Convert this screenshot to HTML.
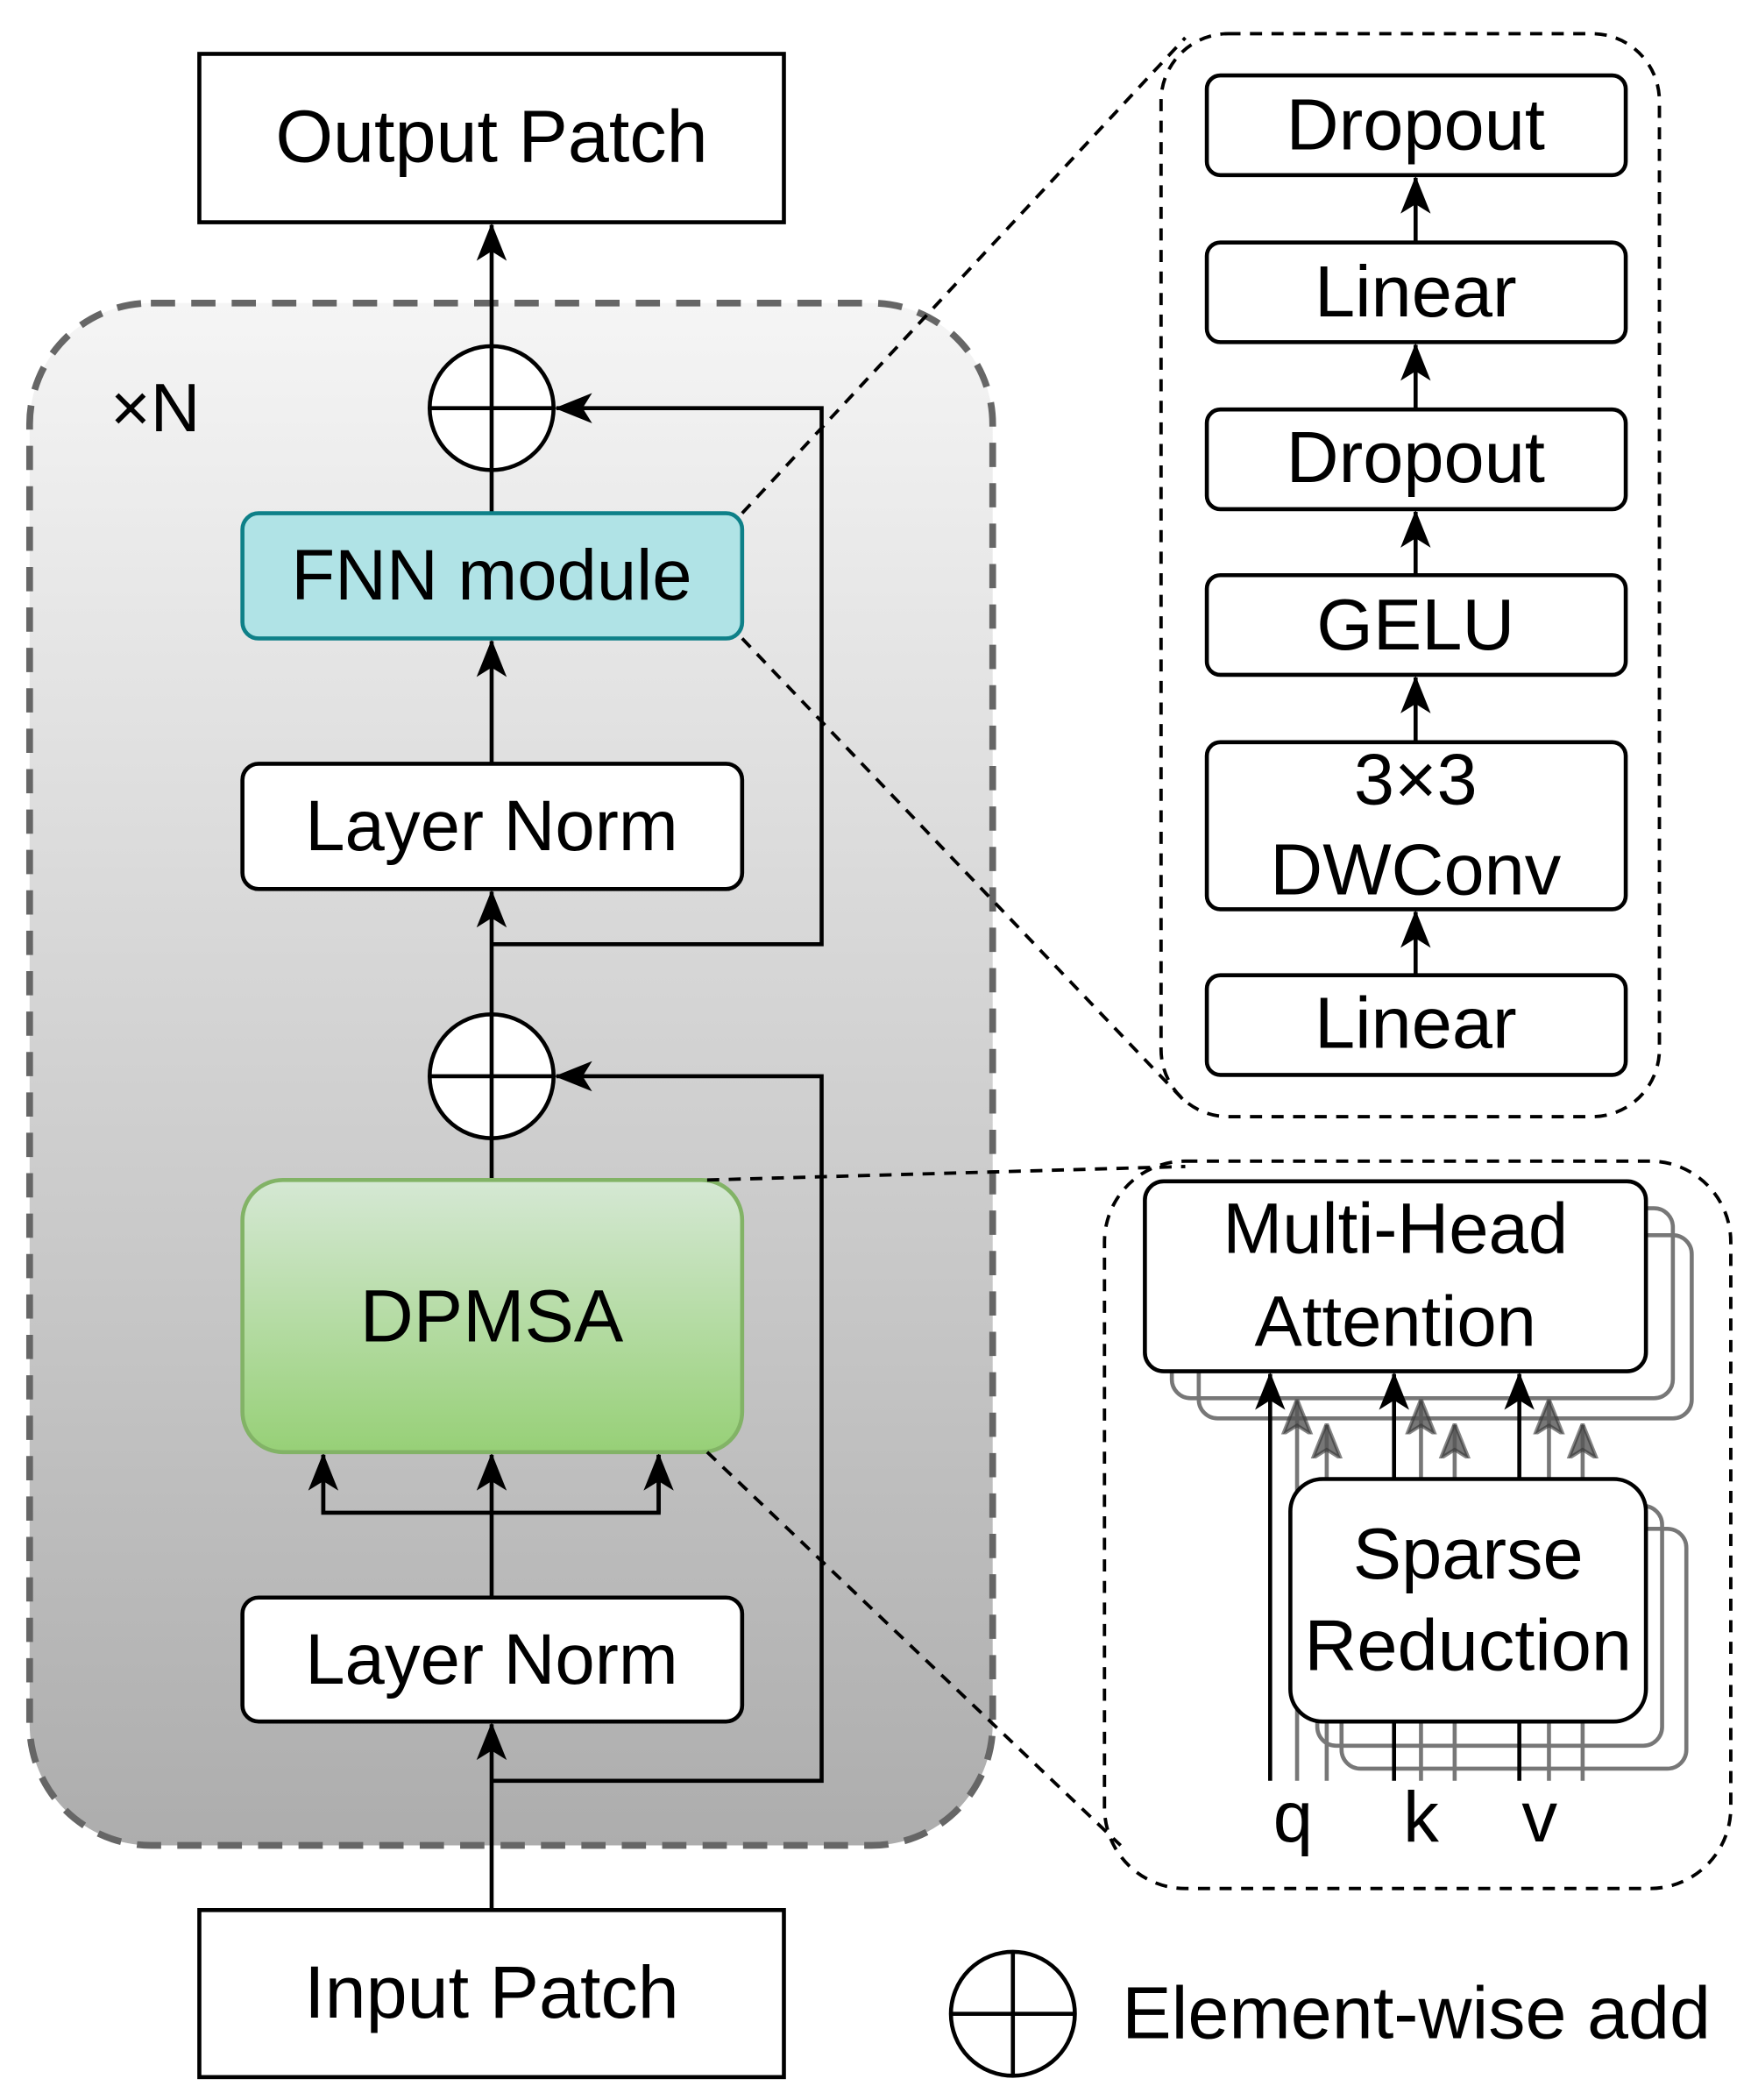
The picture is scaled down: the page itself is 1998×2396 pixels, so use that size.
<!DOCTYPE html>
<html><head><meta charset="utf-8"><style>html,body{margin:0;padding:0;background:#fff}svg{display:block}</style></head>
<body>
<svg width="1998" height="2396" viewBox="0 0 1300 1559" preserveAspectRatio="none" xmlns="http://www.w3.org/2000/svg" font-family="Liberation Sans, Arial, sans-serif">
<defs>
<linearGradient id="gbg" x1="0" y1="0" x2="0" y2="1"><stop offset="0" stop-color="#f5f5f5"/><stop offset="1" stop-color="#adadad"/></linearGradient>
<linearGradient id="ggr" x1="0" y1="0" x2="0" y2="1"><stop offset="0" stop-color="#d5e8d4"/><stop offset="1" stop-color="#97d077"/></linearGradient>
<marker id="A" viewBox="0 0 20 20" refX="19" refY="10" markerWidth="28" markerHeight="28" markerUnits="userSpaceOnUse" orient="auto"><path d="M0,2 L20,10 L0,18 L5,10 Z" fill="#000"/></marker>
<marker id="G" viewBox="0 0 20 20" refX="19" refY="10" markerWidth="26" markerHeight="26" markerUnits="userSpaceOnUse" orient="auto"><path d="M0,2 L20,10 L0,18 L5,10 Z" fill="#555" fill-opacity="0.8" stroke="#333" stroke-opacity="0.6" stroke-width="2"/></marker>
</defs>
<rect x="148" y="40" width="434" height="125" fill="#fff" stroke="#000" stroke-width="3"/>
<text x="365" y="120" font-size="55" text-anchor="middle">Output Patch</text>
<rect x="22" y="225" width="715" height="1145" rx="90" fill="url(#gbg)" stroke="#666" stroke-width="5" stroke-dasharray="18,12"/>
<text x="82" y="320" font-size="51">×N</text>
<g stroke="#000" stroke-width="3" fill="none">
<line x1="365" y1="257" x2="365" y2="167" marker-end="url(#A)"/>
<line x1="365" y1="381" x2="365" y2="349"/>
<line x1="365" y1="567" x2="365" y2="476" marker-end="url(#A)"/>
<line x1="365" y1="753" x2="365" y2="662" marker-end="url(#A)"/>
<line x1="365" y1="876" x2="365" y2="845"/>
<line x1="365" y1="1186" x2="365" y2="1080" marker-end="url(#A)"/>
<line x1="365" y1="1418" x2="365" y2="1280" marker-end="url(#A)"/>
<polyline points="240,1080 240,1123 489,1123 489,1080"/>
<line x1="240" y1="1123" x2="240" y2="1080" marker-end="url(#A)"/>
<line x1="489" y1="1123" x2="489" y2="1080" marker-end="url(#A)"/>
<polyline points="365,1322 610,1322 610,799 413,799" marker-end="url(#A)"/>
<polyline points="365,701 610,701 610,303 413,303" marker-end="url(#A)"/>
</g>
<g stroke="#000" stroke-width="3" fill="#fff">
<circle cx="365" cy="303" r="46"/><line x1="319" y1="303" x2="411" y2="303"/><line x1="365" y1="257" x2="365" y2="349"/>
<circle cx="365" cy="799" r="46"/><line x1="319" y1="799" x2="411" y2="799"/><line x1="365" y1="753" x2="365" y2="845"/>
</g>
<rect x="180" y="381" width="371" height="93" rx="12" fill="#b0e3e6" stroke="#0e8088" stroke-width="3"/>
<text x="365" y="445" font-size="53" text-anchor="middle">FNN module</text>
<rect x="180" y="567" width="371" height="93" rx="12" fill="#fff" stroke="#000" stroke-width="3"/>
<text x="365" y="631" font-size="53" text-anchor="middle">Layer Norm</text>
<rect x="180" y="876" width="371" height="202" rx="30" fill="url(#ggr)" stroke="#82b366" stroke-width="3"/>
<text x="365" y="996" font-size="55" text-anchor="middle">DPMSA</text>
<rect x="180" y="1186" width="371" height="92" rx="12" fill="#fff" stroke="#000" stroke-width="3"/>
<text x="365" y="1250" font-size="53" text-anchor="middle">Layer Norm</text>
<rect x="148" y="1418" width="434" height="124" fill="#fff" stroke="#000" stroke-width="3"/>
<text x="365" y="1498" font-size="55" text-anchor="middle">Input Patch</text>
<g stroke="#000" stroke-width="2.5" stroke-dasharray="9,7" fill="none">
<line x1="551" y1="381" x2="880" y2="28"/>
<line x1="551" y1="474" x2="880" y2="818"/>
<line x1="525" y1="876" x2="880" y2="866"/>
<line x1="525" y1="1078" x2="832" y2="1370"/>
<rect x="862" y="25" width="370" height="804" rx="50"/>
<rect x="820" y="862" width="465" height="540" rx="60"/>
</g>
<g stroke="#000" stroke-width="3" fill="none">
<line x1="1051" y1="180" x2="1051" y2="132" marker-end="url(#A)"/>
<line x1="1051" y1="304" x2="1051" y2="256" marker-end="url(#A)"/>
<line x1="1051" y1="427" x2="1051" y2="380" marker-end="url(#A)"/>
<line x1="1051" y1="551" x2="1051" y2="503" marker-end="url(#A)"/>
<line x1="1051" y1="724" x2="1051" y2="677" marker-end="url(#A)"/>
</g>
<g stroke="#000" stroke-width="3" fill="#fff">
<rect x="896" y="56" width="311" height="74" rx="10"/>
<rect x="896" y="180" width="311" height="74" rx="10"/>
<rect x="896" y="304" width="311" height="74" rx="10"/>
<rect x="896" y="427" width="311" height="74" rx="10"/>
<rect x="896" y="551" width="311" height="124" rx="10"/>
<rect x="896" y="724" width="311" height="74" rx="10"/>
</g>
<g font-size="54" text-anchor="middle">
<text x="1051" y="111">Dropout</text>
<text x="1051" y="235">Linear</text>
<text x="1051" y="358">Dropout</text>
<text x="1051" y="482">GELU</text>
<text x="1051" y="597">3×3</text>
<text x="1051" y="664">DWConv</text>
<text x="1051" y="778">Linear</text>
</g>
<g stroke="#777" stroke-width="3" fill="none">
<rect x="870" y="897" width="372" height="141" rx="14"/>
<rect x="890" y="917" width="366" height="136" rx="14"/>
<rect x="978" y="1118" width="256" height="178" rx="14"/>
<rect x="996" y="1135" width="256" height="178" rx="14"/>
<line x1="963" y1="1322" x2="963" y2="1040" marker-end="url(#G)"/>
<line x1="985" y1="1322" x2="985" y2="1058" marker-end="url(#G)"/>
<line x1="1055" y1="1322" x2="1055" y2="1040" marker-end="url(#G)"/>
<line x1="1080" y1="1322" x2="1080" y2="1058" marker-end="url(#G)"/>
<line x1="1150" y1="1322" x2="1150" y2="1040" marker-end="url(#G)"/>
<line x1="1175" y1="1322" x2="1175" y2="1058" marker-end="url(#G)"/>
</g>
<g stroke="#000" stroke-width="3" fill="none">
<line x1="943" y1="1322" x2="943" y2="1020" marker-end="url(#A)"/>
<line x1="1035" y1="1322" x2="1035" y2="1020" marker-end="url(#A)"/>
<line x1="1128" y1="1322" x2="1128" y2="1020" marker-end="url(#A)"/>
</g>
<rect x="850" y="877" width="372" height="141" rx="14" fill="#fff" stroke="#000" stroke-width="3"/>
<text x="1036" y="930" font-size="53" text-anchor="middle">Multi-Head</text>
<text x="1036" y="999" font-size="53" text-anchor="middle">Attention</text>
<rect x="958" y="1098" width="264" height="180" rx="24" fill="#fff" stroke="#000" stroke-width="3"/>
<text x="1090" y="1172" font-size="54" text-anchor="middle">Sparse</text>
<text x="1090" y="1240" font-size="54" text-anchor="middle">Reduction</text>
<g font-size="53" text-anchor="middle">
<text x="960" y="1367">q</text>
<text x="1055" y="1367">k</text>
<text x="1143" y="1367">v</text>
</g>
<g stroke="#000" stroke-width="3" fill="#fff">
<circle cx="752" cy="1495" r="46"/><line x1="706" y1="1495" x2="798" y2="1495"/><line x1="752" y1="1449" x2="752" y2="1541"/>
</g>
<text x="833" y="1513" font-size="55">Element-wise add</text>
</svg>
</body></html>
